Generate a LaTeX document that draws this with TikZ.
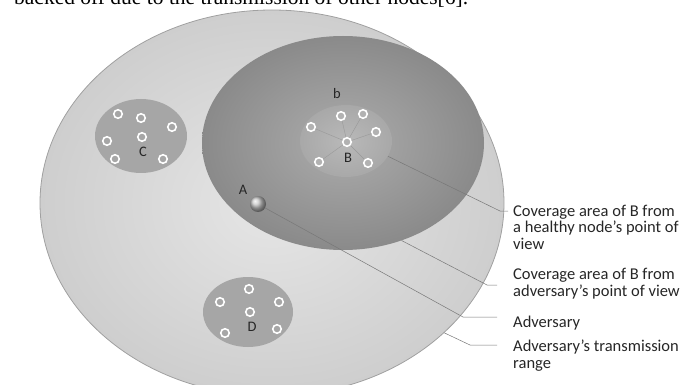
\documentclass[tikz,border=0pt]{standalone}
\usepackage{fontspec}
\setmainfont{Carlito}
\newfontfamily\capfont{Liberation Serif}
\usepackage{xcolor}
\usetikzlibrary{shapes.geometric,positioning}

\definecolor{rangein}{RGB}{230,230,230}
\definecolor{rangeout}{RGB}{206,206,206}
\definecolor{rangeline}{RGB}{160,160,160}
\definecolor{darkin}{RGB}{172,172,172}
\definecolor{darkout}{RGB}{138,138,138}
\definecolor{clustgray}{RGB}{166,166,166}
\definecolor{leadgray}{RGB}{120,120,120}
\definecolor{inkgray}{RGB}{38,38,38}

\begin{document}
\begin{tikzpicture}[
  x=1pt, y=-1pt,
  zone/.style={ellipse, inner sep=0pt},
  sensor/.style={circle, draw=white, line width=1.6pt, fill=clustgray,
                 minimum size=8.5pt, inner sep=0pt},
  spoke/.style={draw=gray!80, line width=0.4pt},
  leader/.style={draw=leadgray, line width=0.5pt},
  tag/.style={inner sep=0pt, text=inkgray, font=\fontsize{14.5}{16}\selectfont},
  note/.style={anchor=base west, align=left, inner sep=0pt, text=inkgray,
               font=\fontsize{16.5}{16.5}\selectfont}
]
\useasboundingbox (0,0) rectangle (699,385);
\clip (0,0) rectangle (699,385);

\node[anchor=base west, inner sep=0pt, font=\capfont\fontsize{21.5}{24}\selectfont] (cap) at (14,5)
  {backed off due to the transmission of other nodes[6].};

\node[zone, minimum width=464pt, minimum height=386pt, shading=radial,
      inner color=rangein, outer color=rangeout, draw=rangeline, line width=0.8pt] (range) at (272,203) {};
\node[zone, minimum width=282pt, minimum height=214pt, shading=radial,
      inner color=darkin, outer color=darkout] (cover) at (343,143) {};

\node[zone, minimum width=92pt, minimum height=74pt, fill=clustgray] (czone) at (141,136) {};
\node[zone, minimum width=92pt, minimum height=72pt, shading=radial,
      inner color=gray!55, outer color=gray!68] (bzone) at (346,141) {};
\node[zone, minimum width=90pt, minimum height=70pt, fill=clustgray] (dzone) at (248,312) {};

\node[sensor] (c1) at (118,114) {};
\node[sensor] (c2) at (141,118) {};
\node[sensor] (c3) at (172,127) {};
\node[sensor] (c4) at (107,141) {};
\node[sensor] (c5) at (142,137) {};
\node[sensor] (c6) at (115,159) {};
\node[sensor] (c7) at (163,159) {};
\node[tag] (lblc) at (143,152) {C};

\node[sensor, fill=gray!60] (b0) at (347,142) {};
\node[sensor, fill=gray!60] (b1) at (311,127) {};
\node[sensor, fill=gray!60] (b2) at (341,116) {};
\node[sensor, fill=gray!60] (b3) at (363,114) {};
\node[sensor, fill=gray!60] (b4) at (376,132) {};
\node[sensor, fill=gray!60] (b5) at (319,162) {};
\node[sensor, fill=gray!60] (b6) at (368,163) {};
\node[tag] (lblb) at (348,158) {B};
\node[tag] (lblsmallb) at (337,94) {b};

\draw[spoke] (b0) -- (b1);
\draw[spoke] (b0) -- (b2);
\draw[spoke] (b0) -- (b3);
\draw[spoke] (b0) -- (b4);
\draw[spoke] (b0) -- (b5);
\draw[spoke] (b0) -- (b6);

\node[sensor] (d1) at (249,289) {};
\node[sensor] (d2) at (220,302) {};
\node[sensor] (d3) at (279,302) {};
\node[sensor] (d4) at (250,312) {};
\node[sensor] (d5) at (225,333) {};
\node[sensor] (d6) at (277,329) {};
\node[tag] (lbld) at (252,327) {D};

\node[circle, ball color=gray!45, minimum size=16pt, inner sep=0pt] (advA) at (258,204) {};
\node[tag] (lbla) at (243,190) {A};

% base of a multi-line note is its last line
\node[note] (note1) at (513,249) {Coverage area of B from\\a healthy node’s point of\\view};
\node[note] (note2) at (513,296) {Coverage area of B from\\adversary’s point of view};
\node[note] (note3) at (513,327) {Adversary};
\node[note] (note4) at (513,368) {Adversary’s transmission\\range};

\coordinate (k1) at (500,211);
\coordinate (e1) at (508,211);
\coordinate (k2) at (487,285);
\coordinate (e2) at (497,285);
\coordinate (k3) at (463,317);
\coordinate (e3) at (497,317);
\coordinate (k4) at (470,345);
\coordinate (e4) at (497,345);

\draw[leader] (bzone.-20) -- (k1) -- (e1);
\draw[leader] (cover.-59.6) -- (k2) -- (e2);
\draw[leader] (advA.-29) -- (k3) -- (e3);
\draw[leader] (range.-37.6) -- (k4) -- (e4);
\end{tikzpicture}
\end{document}
